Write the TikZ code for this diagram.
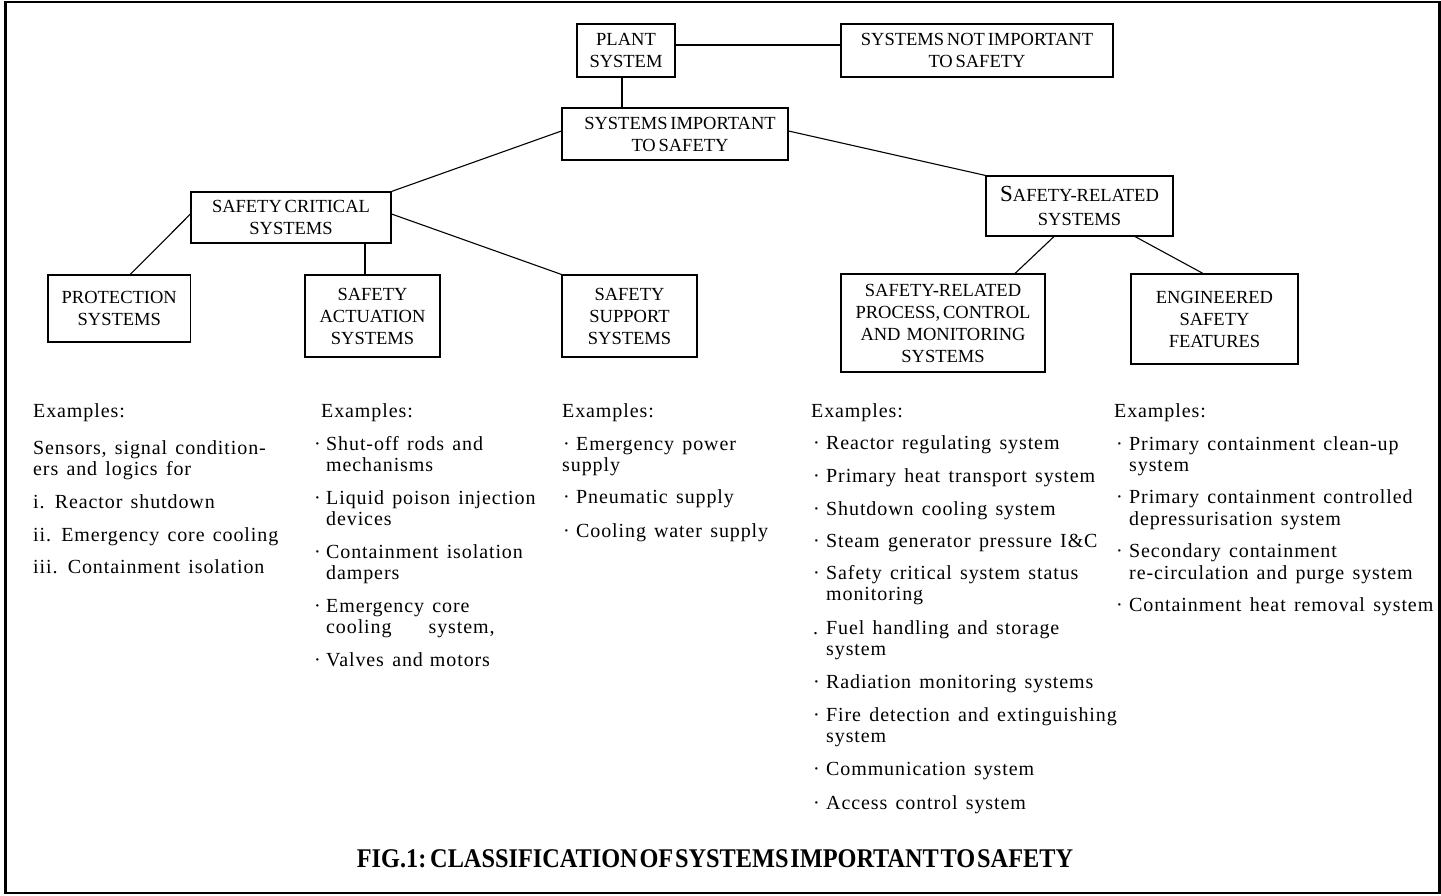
\documentclass[tikz,border=0pt]{standalone}
\usepackage{fontspec}
\setmainfont{Liberation Serif}
\newfontfamily\bodyfnt[LetterSpace=4.5,WordSpace=1.4]{Liberation Serif}
\newfontfamily\boxfnt[WordSpace=0.6]{Liberation Serif}
\newfontfamily\titlefnt[FakeStretch=0.9,WordSpace=0.3]{Liberation Serif}
\usetikzlibrary{calc}
\newcommand{\bl}{\makebox[13pt][l]{·}}
\newcommand{\blb}{\makebox[12pt][l]{·}}
\begin{document}
\begin{tikzpicture}[x=1pt,y=1pt,
 box/.style={draw,line width=1.1pt,inner sep=0pt,align=center,font=\boxfnt\fontsize{18.5}{22}\selectfont},
 conn/.style={line width=1.1pt},
 txt/.style={anchor=base west,inner sep=0pt,font=\bodyfnt\fontsize{20}{22}\selectfont},
 frame/.style={line width=2.8pt}]
\useasboundingbox (0,0) rectangle (1441,-896);

% boxes
\node[box,minimum width=98pt,minimum height=53pt] (plant) at (626,-50.5) {PLANT\\SYSTEM};
\node[box,minimum width=272pt,minimum height=53pt] (notimp) at (977,-50.5) {SYSTEMS NOT IMPORTANT\\TO SAFETY};
\node[box,minimum width=226pt,minimum height=52pt] (imp) at (675,-134) {\hspace*{10pt}SYSTEMS IMPORTANT\\\hspace*{10pt}TO SAFETY};
\node[box,minimum width=200pt,minimum height=51pt] (crit) at (291,-217.5) {SAFETY CRITICAL\\SYSTEMS};
\node[box,minimum width=187pt,minimum height=60pt] (srel) at (1079.5,-206) {{\fontsize{23}{22}\selectfont S}AFETY-RELATED\\[2pt]SYSTEMS};
\node[box,minimum width=142.5pt,minimum height=67pt] (prot) at (119.25,-308.5) {PROTECTION\\SYSTEMS};
\node[box,minimum width=135pt,minimum height=82pt] (act) at (372.5,-316) {SAFETY\\ACTUATION\\SYSTEMS};
\node[box,minimum width=135pt,minimum height=82pt] (sup) at (629.5,-316) {SAFETY\\SUPPORT\\SYSTEMS};
\node[box,minimum width=204pt,minimum height=98pt] (proc) at (943,-323) {SAFETY-RELATED\\PROCESS, CONTROL\\AND\hspace{6pt}MONITORING\\SYSTEMS};
\node[box,minimum width=167pt,minimum height=90pt] (eng) at (1214.5,-319) {ENGINEERED\\SAFETY\\FEATURES};

% connectors
\draw[conn] ($(plant.east)+(0,5.5)$) -- ($(notimp.west)+(0,5.5)$);
\draw[conn] ($(plant.south)+(-4,0)$) coordinate (pb) -- (pb |- imp.north);
\draw[conn] ($(imp.west)+(0,3)$) -- (crit.north east);
\draw[conn] ($(imp.east)+(0,3)$) -- (srel.north west);
\draw[conn] ($(crit.west)+(0,3.5)$) -- ($(prot.north)+(11,0)$);
\draw[conn] ($(crit.south)+(74,0)$) coordinate (cb) -- (cb |- act.north);
\draw[conn] ($(crit.east)+(0,3.5)$) -- (sup.north west);
\draw[conn] ($(srel.south)+(-25.5,0)$) -- ($(proc.north)+(72,0)$);
\draw[conn] ($(srel.south)+(55.5,0)$) -- ($(eng.north)+(-11.5,0)$);

% column 1
\node[txt] (c1h) at (33,-417) {Examples:};
\node[txt] (c1a) at (33,-454) {Sensors, signal condition-};
\node[txt] (c1b) at (33,-475) {ers and logics for};
\node[txt] (c1c) at (33,-508) {i. Reactor shutdown};
\node[txt] (c1d) at (33,-541) {ii. Emergency core cooling};
\node[txt] (c1e) at (33,-573) {iii. Containment isolation};

% column 2
\node[txt] (c2h) at (321,-417) {Examples:};
\node[txt] (c2a) at (314,-450) {\blb Shut-off rods and};
\node[txt] (c2b) at (326,-471) {mechanisms};
\node[txt] (c2c) at (314,-504) {\blb Liquid poison injection};
\node[txt] (c2d) at (326,-525) {devices};
\node[txt] (c2e) at (314,-558) {\blb Containment isolation};
\node[txt] (c2f) at (326,-579) {dampers};
\node[txt] (c2g) at (314,-612) {\blb Emergency core};
\node[txt] (c2i) at (326,-633) {cooling\hspace{37pt}system,};
\node[txt] (c2j) at (314,-666) {\blb Valves and\hspace{7pt}motors};

% column 3
\node[txt] (c3h) at (562,-417) {Examples:};
\node[txt] (c3a) at (563,-450) {\bl Emergency power};
\node[txt] (c3b) at (562,-471) {supply};
\node[txt] (c3c) at (563,-503) {\bl Pneumatic supply};
\node[txt] (c3d) at (563,-537) {\bl Cooling\hspace{8pt}water supply};

% column 4
\node[txt] (c4h) at (811,-417) {Examples:};
\node[txt] (c4a) at (813,-449) {\bl Reactor regulating system};
\node[txt] (c4b) at (813,-482) {\bl Primary heat transport system};
\node[txt] (c4c) at (813,-515) {\bl Shutdown cooling system};
\node[txt] (c4d) at (813,-547) {\bl Steam generator pressure I\&C};
\node[txt] (c4e) at (813,-579) {\bl Safety critical system status};
\node[txt] (c4f) at (826,-600) {monitoring};
\node[txt] (c4g) at (813,-634) {\makebox[13pt][l]{.}Fuel handling and storage};
\node[txt] (c4i) at (826,-655) {system};
\node[txt] (c4j) at (813,-688) {\bl Radiation monitoring systems};
\node[txt] (c4k) at (813,-721) {\bl Fire detection and extinguishing};
\node[txt] (c4l) at (826,-742) {system};
\node[txt] (c4m) at (813,-775) {\bl Communication system};
\node[txt] (c4n) at (813,-809) {\bl Access control system};

% column 5
\node[txt] (c5h) at (1114,-417) {Examples:};
\node[txt] (c5a) at (1116,-450) {\bl Primary containment clean-up};
\node[txt] (c5b) at (1129,-471) {system};
\node[txt] (c5c) at (1116,-503) {\bl Primary containment controlled};
\node[txt] (c5d) at (1129,-525) {depressurisation system};
\node[txt] (c5e) at (1116,-557) {\bl Secondary containment};
\node[txt] (c5f) at (1129,-579) {re-circulation\hspace{8pt}and purge system};
\node[txt] (c5g) at (1116,-611) {\bl Containment heat removal system};

% title
\node[anchor=base,inner sep=0pt,font=\titlefnt\bfseries\fontsize{27}{27}\selectfont] (title) at (715,-867) {FIG.1: CLASSIFICATION OF SYSTEMS IMPORTANT TO SAFETY};

% outer frame (covers overflowing text at right)
\fill[white] (1439.5,0) rectangle (1441,-896);
\draw[frame] (5.3,-2) rectangle (1439.5,-893);
\end{tikzpicture}
\end{document}
